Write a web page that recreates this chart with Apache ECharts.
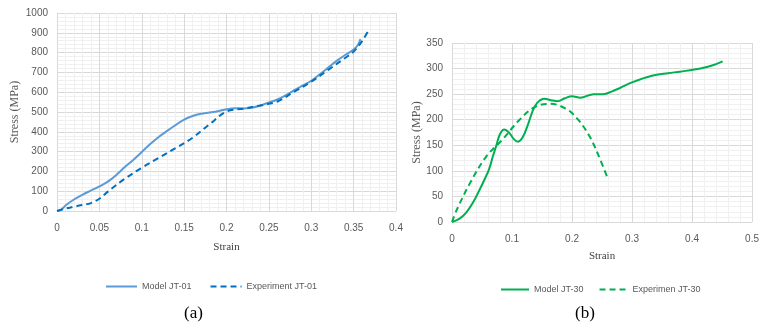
<!DOCTYPE html>
<html>
<head>
<meta charset="utf-8">
<script src="https://cdn.jsdelivr.net/npm/echarts@6/dist/echarts.min.js"></script>
<style>
  html, body { margin: 0; padding: 0; background: #fff; }
  #chart { width: 762px; height: 326px; }
</style>
</head>
<body>
<div id="chart"></div>
<script>
// Panel (a): JT-01 stress-strain, [strain, stress MPa]
const modelJT01 = [
  [0, 0], [0.005, 6], [0.01, 28], [0.02, 58], [0.03, 82], [0.04, 103], [0.05, 124],
  [0.06, 148], [0.07, 182], [0.08, 222], [0.09, 258], [0.1, 298], [0.11, 338],
  [0.12, 374], [0.13, 405], [0.14, 434], [0.15, 462], [0.16, 480], [0.17, 491],
  [0.18, 497], [0.19, 504], [0.2, 514], [0.21, 519], [0.22, 518], [0.23, 522],
  [0.24, 533], [0.25, 548], [0.26, 563], [0.27, 585], [0.28, 610], [0.29, 634],
  [0.3, 658], [0.31, 690], [0.32, 724], [0.33, 758], [0.34, 788], [0.35, 815],
  [0.355, 838], [0.358, 868]
];
const experimentJT01 = [
  [0, 0], [0.01, 12], [0.02, 22], [0.03, 30], [0.04, 40], [0.05, 62], [0.06, 98],
  [0.08, 163], [0.1, 218], [0.12, 268], [0.14, 318], [0.16, 370], [0.18, 438],
  [0.2, 502], [0.22, 517], [0.24, 533], [0.26, 553], [0.28, 603], [0.3, 653],
  [0.32, 713], [0.34, 773], [0.35, 805], [0.36, 858], [0.368, 916]
];

// Panel (b): JT-30 stress-strain, [strain, stress MPa]
const modelJT30 = [
  [0, 0], [0.012, 6], [0.024, 19], [0.035, 38], [0.046, 63], [0.055, 85], [0.062, 104],
  [0.068, 128], [0.074, 150], [0.08, 172], [0.087, 181], [0.095, 175], [0.103, 162],
  [0.11, 157], [0.118, 166], [0.127, 192], [0.134, 216], [0.142, 233], [0.154, 241],
  [0.165, 238], [0.176, 236], [0.188, 242], [0.2, 246], [0.214, 243], [0.236, 250],
  [0.252, 250], [0.266, 255], [0.28, 262], [0.3, 273], [0.333, 286], [0.36, 291],
  [0.38, 294], [0.414, 300], [0.436, 307], [0.451, 314]
];
const experimentJT30 = [
  [0, 0], [0.008, 24], [0.03, 76], [0.057, 128], [0.084, 161], [0.111, 198],
  [0.138, 225], [0.165, 231], [0.192, 220], [0.211, 199], [0.23, 166], [0.247, 122],
  [0.26, 84]
];

const tickColor = '#595959';
const majorGrid = '#d9d9d9';
const minorGrid = '#f0f0f0';
const sansFont = '"Liberation Sans", Arial, sans-serif';
const serifFont = '"Liberation Serif", "Times New Roman", serif';

function xAxisCfg(gridIndex, max, interval, nameGap) {
  return {
    type: 'value', gridIndex, min: 0, max, interval,
    name: 'Strain', nameLocation: 'middle', nameGap,
    nameTextStyle: { fontFamily: serifFont, fontSize: 11, color: '#404040' },
    axisLine: { show: false }, axisTick: { show: false },
    axisLabel: { color: tickColor, fontSize: 10, fontFamily: sansFont, margin: 12,
      formatter: v => String(+v.toFixed(3)) },
    splitLine: { show: true, lineStyle: { color: majorGrid, width: 1 } },
    minorTick: { show: false, splitNumber: 5 },
    minorSplitLine: { show: true, lineStyle: { color: minorGrid, width: 1 } }
  };
}
function yAxisCfg(gridIndex, max, interval, nameGap) {
  return {
    type: 'value', gridIndex, min: 0, max, interval,
    name: 'Stress (MPa)', nameLocation: 'middle', nameGap,
    nameTextStyle: { fontFamily: serifFont, fontSize: 12, color: tickColor },
    axisLine: { show: false }, axisTick: { show: false },
    axisLabel: { color: tickColor, fontSize: 10, fontFamily: sansFont, margin: 9,
      formatter: v => String(v) },
    splitLine: { show: true, lineStyle: { color: majorGrid, width: 1 } },
    minorTick: { show: false, splitNumber: 5 },
    minorSplitLine: { show: true, lineStyle: { color: minorGrid, width: 1 } }
  };
}
function lineSeries(name, data, axisIndex, color, dashed) {
  return {
    name, type: 'line', data, xAxisIndex: axisIndex, yAxisIndex: axisIndex,
    symbol: 'none', smooth: 0.35, silent: true,
    lineStyle: { color, width: 2, type: dashed ? [6, 4] : 'solid' },
    itemStyle: { color }
  };
}

const legendText = { color: tickColor, fontSize: 9, fontFamily: sansFont };
// legend shows the line stroke only, no point marker
const legendItem = { opacity: 0 };

const chart = echarts.init(document.getElementById('chart'), null, { renderer: 'canvas' });
chart.setOption({
  animation: false,
  backgroundColor: '#fff',
  grid: [
    { left: 57, top: 13, width: 339, height: 198 },
    { left: 452, top: 43, width: 308, height: 179 }
  ],
  xAxis: [xAxisCfg(0, 0.4, 0.05, 31), xAxisCfg(1, 0.5, 0.1, 29)],
  yAxis: [yAxisCfg(0, 1000, 100, 36), yAxisCfg(1, 350, 50, 26)],
  legend: [
    {
      data: ['Model JT-01', 'Experiment JT-01'], left: 100, top: 277,
      itemWidth: 31, itemHeight: 10, itemGap: 18, textStyle: legendText,
      itemStyle: legendItem, selectedMode: false
    },
    {
      data: ['Model JT-30', 'Experimen JT-30'], left: 495, top: 280,
      itemWidth: 28, itemHeight: 10, itemGap: 15, textStyle: legendText,
      itemStyle: legendItem, selectedMode: false
    }
  ],
  title: [
    { text: '(a)', left: 179, top: 300, textStyle: { fontFamily: serifFont, fontSize: 17, fontWeight: 'normal', color: '#000' } },
    { text: '(b)', left: 570, top: 300, textStyle: { fontFamily: serifFont, fontSize: 17, fontWeight: 'normal', color: '#000' } }
  ],
  series: [
    lineSeries('Model JT-01', modelJT01, 0, '#5b9bd5', false),
    lineSeries('Experiment JT-01', experimentJT01, 0, '#0070c0', true),
    lineSeries('Model JT-30', modelJT30, 1, '#00b050', false),
    lineSeries('Experimen JT-30', experimentJT30, 1, '#00b050', true)
  ]
});
</script>
</body>
</html>
